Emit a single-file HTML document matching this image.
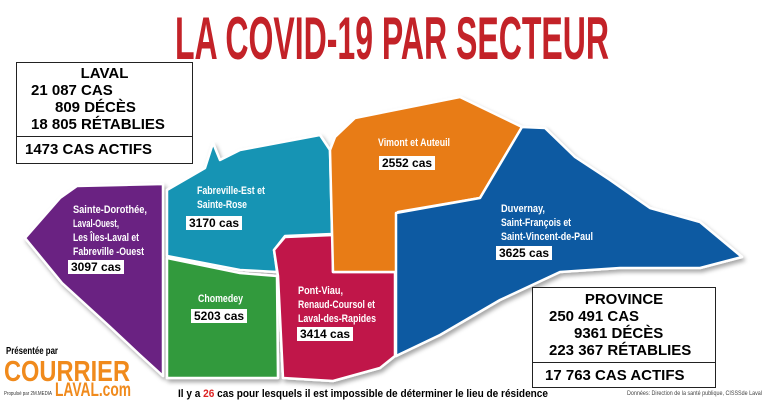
<!DOCTYPE html>
<html><head><meta charset="utf-8"><style>
body{margin:0;background:#fff;width:768px;height:402px;overflow:hidden;position:relative;font-family:"Liberation Sans",sans-serif}
.t{position:absolute;left:0;top:0}
.box{position:absolute;border:1.5px solid #222;background:#fff;font-weight:bold;color:#000;white-space:nowrap}
.cs{position:absolute;background:#fff;color:#000;font-weight:bold;font-size:12px;padding:0 3px;line-height:14px;white-space:nowrap}
</style></head><body>
<svg class="t" width="768" height="402" viewBox="0 0 768 402">
<defs><filter id="sh"><feDropShadow dx="2" dy="3" stdDeviation="2" flood-color="#000" flood-opacity="0.35"/></filter></defs>
<g filter="url(#sh)" stroke="#fff" stroke-width="2.5" stroke-linejoin="round">
<polygon fill="#6a2282" points="77,186 163,184 163,376 140,355 108,325 62,283 25,238 60,198"/>
<polygon fill="#1494b4" points="167,190 205,168 213,143 220,160 240,150 320,135 330,150 332,234 285,236 274,250 277,272 240,270 167,256"/>
<polygon fill="#339a3e" points="167,258 240,273 277,276 278,378 167,378"/>
<polygon fill="#c01848" points="274,250 285,237 333,235 333,272 395,272 395,356 380,368 333,381 283,378 278,276"/>
<polygon fill="#e87c17" points="335,137 355,118 460,97 522,127 480,198 398,212 398,272 333,272 330,150"/>
<polygon fill="#0a5aa2" points="522,127 545,128 575,157 610,180 650,208 700,222 742,257 700,268 620,268 560,272 500,300 440,335 396,356 396,213 480,198"/>
</g>
<text x="175" y="59" textLength="434" lengthAdjust="spacingAndGlyphs" font-family="Liberation Sans" font-weight="bold" font-size="60" fill="#c32228">LA COVID-19 PAR SECTEUR</text>
<g fill="#fff" font-family="Liberation Sans" font-weight="bold" font-size="11">
<text x="73" y="213" textLength="74" lengthAdjust="spacingAndGlyphs">Sainte-Dorothée,</text>
<text x="73" y="227" textLength="46" lengthAdjust="spacingAndGlyphs">Laval-Ouest,</text>
<text x="73" y="241" textLength="66" lengthAdjust="spacingAndGlyphs">Les Îles-Laval et</text>
<text x="73" y="255" textLength="71" lengthAdjust="spacingAndGlyphs">Fabreville -Ouest</text>
<text x="197" y="194" textLength="68" lengthAdjust="spacingAndGlyphs">Fabreville-Est et</text>
<text x="197" y="208" textLength="50" lengthAdjust="spacingAndGlyphs">Sainte-Rose</text>
<text x="198" y="302" textLength="45" lengthAdjust="spacingAndGlyphs">Chomedey</text>
<text x="298" y="294" textLength="45" lengthAdjust="spacingAndGlyphs">Pont-Viau,</text>
<text x="298" y="308" textLength="77" lengthAdjust="spacingAndGlyphs">Renaud-Coursol et</text>
<text x="298" y="322" textLength="78" lengthAdjust="spacingAndGlyphs">Laval-des-Rapides</text>
<text x="378" y="146" textLength="72" lengthAdjust="spacingAndGlyphs">Vimont et Auteuil</text>
<text x="501" y="212" textLength="44" lengthAdjust="spacingAndGlyphs">Duvernay,</text>
<text x="501" y="226" textLength="70" lengthAdjust="spacingAndGlyphs">Saint-François et</text>
<text x="501" y="240" textLength="92" lengthAdjust="spacingAndGlyphs">Saint-Vincent-de-Paul</text>
</g>
<text x="6" y="354" textLength="52" lengthAdjust="spacingAndGlyphs" font-family="Liberation Sans" font-weight="bold" font-size="10" fill="#000">Présentée par</text>
<text x="4" y="381" textLength="126" lengthAdjust="spacingAndGlyphs" font-family="Liberation Sans" font-weight="bold" font-size="29" fill="#f08a1c">COURRIER</text>
<text x="4" y="395" textLength="48" lengthAdjust="spacingAndGlyphs" font-family="Liberation Sans" font-size="5" fill="#333">Propulsé par 2M.MEDIA</text>
<text x="55" y="396" textLength="76" lengthAdjust="spacingAndGlyphs" font-family="Liberation Sans" font-weight="bold" font-size="19" fill="#f08a1c">LAVAL.com</text>
<text x="178" y="397" textLength="370" lengthAdjust="spacingAndGlyphs" font-family="Liberation Sans" font-weight="bold" font-size="11" fill="#000">Il y a <tspan fill="#d22">26</tspan> cas pour lesquels il est impossible de déterminer le lieu de résidence</text>
<text x="627" y="395" textLength="135" lengthAdjust="spacingAndGlyphs" font-family="Liberation Sans" font-size="6" fill="#444">Données: Direction de la santé publique, CISSSde Laval</text>
</svg>
<div class="box" style="left:16px;top:62px;width:175px;height:100px;font-size:15px;line-height:17px">
<div style="text-align:center;margin-top:2px">LAVAL</div>
<div style="padding-left:14px">21 087 CAS</div>
<div style="padding-left:38px">809 DÉCÈS</div>
<div style="padding-left:14px">18 805 RÉTABLIES</div>
<div style="border-top:1.5px solid #222;margin-top:3px;padding:4px 0 0 8px">1473 CAS ACTIFS</div>
</div>
<div class="box" style="left:532px;top:287px;width:182px;height:99px;font-size:15px;line-height:17px">
<div style="text-align:center;margin-top:3px">PROVINCE</div>
<div style="padding-left:16px">250 491 CAS</div>
<div style="padding-left:41px">9361 DÉCÈS</div>
<div style="padding-left:16px">223 367 RÉTABLIES</div>
<div style="border-top:1.5px solid #222;margin-top:3px;padding:4px 0 0 12px">17 763 CAS ACTIFS</div>
</div>
<div class="cs" style="left:68px;top:260px">3097 cas</div>
<div class="cs" style="left:186px;top:216px">3170 cas</div>
<div class="cs" style="left:191px;top:309px">5203 cas</div>
<div class="cs" style="left:297px;top:327px">3414 cas</div>
<div class="cs" style="left:379px;top:156px">2552 cas</div>
<div class="cs" style="left:496px;top:246px">3625 cas</div>
</body></html>
